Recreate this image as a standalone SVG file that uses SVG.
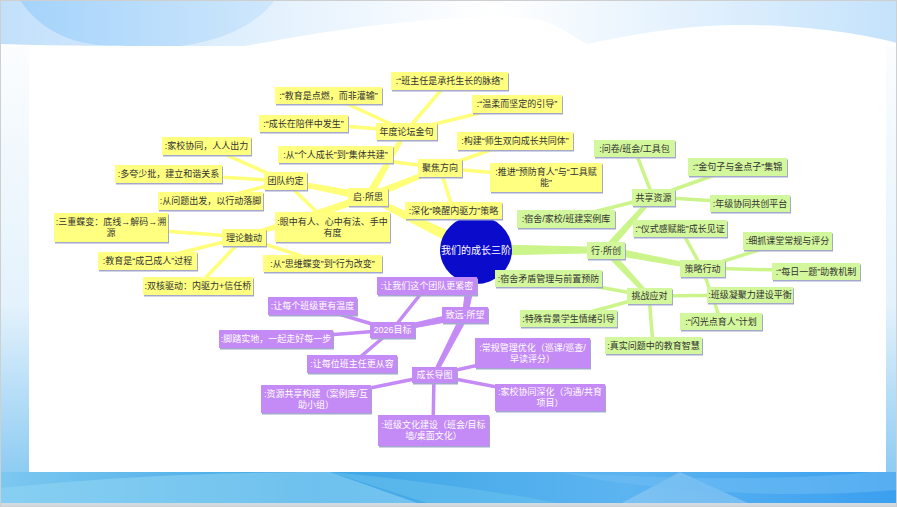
<svg xmlns="http://www.w3.org/2000/svg" width="897" height="507" viewBox="0 0 897 507">
<defs>
<linearGradient id="topg" x1="0" y1="0" x2="1" y2="0">
<stop offset="0" stop-color="#c2e0fb"/><stop offset="0.55" stop-color="#ffffff"/><stop offset="1" stop-color="#c4e2fb"/>
</linearGradient>
<linearGradient id="arcg" x1="0" y1="0" x2="1" y2="0">
<stop offset="0" stop-color="#a4d3fb"/><stop offset="1" stop-color="#cfe7fc"/>
</linearGradient>
<linearGradient id="sideg" x1="0" y1="0" x2="0" y2="1">
<stop offset="0" stop-color="#ffffff"/><stop offset="0.6" stop-color="#e4f2fc"/><stop offset="1" stop-color="#7cc4f0"/>
</linearGradient>
<linearGradient id="botg" x1="0" y1="0" x2="1" y2="0">
<stop offset="0" stop-color="#7cc8f0"/><stop offset="0.35" stop-color="#3ea6e6"/><stop offset="0.7" stop-color="#5cb4f0"/><stop offset="1" stop-color="#3b9ff0"/>
</linearGradient>
<style>
.sh{fill:#a3a9cc}
.y{fill:#ffff80}
.g{fill:#d3f79c}
.p{fill:#c48af6}
.t{font-family:"Liberation Sans","Noto Sans CJK SC",sans-serif;font-size:9px;fill:#333;text-anchor:middle}
.tw{font-family:"Liberation Sans","Noto Sans CJK SC",sans-serif;font-size:9px;fill:#fff;text-anchor:middle}
.cy{stroke:#ffff78;stroke-linecap:round;fill:none}
.cg{stroke:#cbf58a;stroke-linecap:round;fill:none}
.cp{stroke:#c48af6;stroke-linecap:round;fill:none}
.fy{fill:#ffff78;stroke:#ffff78;stroke-width:1;stroke-linejoin:round}
.fg{fill:#cbf58a;stroke:#cbf58a;stroke-width:1;stroke-linejoin:round}
.fp{fill:#c48af6;stroke:#c48af6;stroke-width:1;stroke-linejoin:round}
.w4{stroke-width:3.5}
</style>
</defs>
<g id="background">
<rect x="0" y="0" width="897" height="507" fill="url(#sideg)"/>
<rect x="0" y="0" width="897" height="46" fill="url(#topg)"/>
<path d="M20 0 C40 30 70 44 110 46 L180 46 C230 40 260 20 275 0 Z" fill="url(#arcg)"/>
<path d="M0 46 L0 44 C60 46 120 46 245 46 C330 30 430 14 530 18 C560 22 575 40 588 44 C650 30 700 25 740 25 C800 25 860 33 897 43 L897 46 Z" fill="#ffffff"/>
<rect x="29" y="46" width="857" height="426" fill="#ffffff"/>
<rect x="0" y="472" width="897" height="32" fill="url(#botg)"/>
<path d="M0 488 C100 478 200 472 330 472 L420 504 L0 504 Z" fill="#8fd3f3" opacity="0.6"/>
<path d="M330 472 C420 480 520 495 560 504 L430 504 Z" fill="#6cc3ee" opacity="0.5"/>
<path d="M680 472 L750 504 L620 504 Z" fill="#9bd0f3" opacity="0.5"/>
<path d="M560 472 C680 480 800 480 870 472 L897 472 L897 490 C800 498 700 494 600 480 Z" fill="#72bdf3" opacity="0.5"/>
<rect x="0" y="503" width="897" height="4" fill="#d3dae0"/>
<rect x="0.5" y="0.5" width="896" height="506" fill="none" stroke="#cfcfcf"/>
</g>
<g id="connectors">
<polygon class="fy" points="478.4,245.1 369.1,194.8 366.9,199.2 473.6,254.9"/>
<polygon class="fy" points="368.7,193.6 285.3,179.3 284.7,182.7 367.3,200.4"/>
<polygon class="fy" points="366.9,193.7 243.5,235.3 244.5,238.7 369.1,200.3"/>
<polygon class="fy" points="371,198.8 407.5,131.9 404.5,130.1 365,195.3"/>
<polygon class="fy" points="369.3,200.3 440.7,169.6 439.3,166.4 366.7,193.8"/>
<line class="cy w4" x1="285" y1="181" x2="206" y2="146"/>
<line class="cy w4" x1="285" y1="181" x2="168" y2="174"/>
<line class="cy w4" x1="285" y1="181" x2="210" y2="201"/>
<line class="cy w4" x1="285" y1="181" x2="332" y2="227"/>
<line class="cy w4" x1="244" y1="237" x2="111" y2="227"/>
<line class="cy w4" x1="244" y1="237" x2="147" y2="261"/>
<line class="cy w4" x1="244" y1="237" x2="198" y2="286"/>
<line class="cy w4" x1="244" y1="237" x2="322" y2="263"/>
<line class="cy w4" x1="406" y1="131" x2="449" y2="81"/>
<line class="cy w4" x1="406" y1="131" x2="328" y2="95"/>
<line class="cy w4" x1="406" y1="131" x2="517" y2="104"/>
<line class="cy w4" x1="406" y1="131" x2="303" y2="123"/>
<line class="cy w4" x1="440" y1="168" x2="515" y2="141"/>
<line class="cy w4" x1="440" y1="168" x2="546" y2="177"/>
<line class="cy w4" x1="440" y1="168" x2="453" y2="210"/>
<line class="cy w4" x1="440" y1="168" x2="335" y2="154"/>
<polygon class="fg" points="476,255.5 606,252.5 606,247.5 476,244.5"/>
<polygon class="fg" points="608.6,252.3 654.3,198.2 651.7,195.8 603.4,247.7"/>
<polygon class="fg" points="605.4,253.4 701.7,269.7 702.3,266.3 606.6,246.6"/>
<polygon class="fg" points="603.4,252.4 647.7,297.2 650.3,294.8 608.6,247.6"/>
<line class="cg w4" x1="653" y1="197" x2="634" y2="148"/>
<line class="cg w4" x1="653" y1="197" x2="737" y2="167"/>
<line class="cg w4" x1="653" y1="197" x2="750" y2="203"/>
<line class="cg w4" x1="653" y1="197" x2="566" y2="219"/>
<line class="cg w4" x1="702" y1="268" x2="680" y2="228"/>
<line class="cg w4" x1="702" y1="268" x2="787" y2="241"/>
<line class="cg w4" x1="702" y1="268" x2="816" y2="271"/>
<line class="cg w4" x1="702" y1="268" x2="721" y2="321"/>
<line class="cg w4" x1="649" y1="296" x2="548" y2="278"/>
<line class="cg w4" x1="649" y1="296" x2="568" y2="318"/>
<line class="cg w4" x1="649" y1="296" x2="653" y2="345"/>
<line class="cg w4" x1="649" y1="296" x2="750" y2="295"/>
<polygon class="fp" points="470.6,249.1 462.5,314.6 467.5,315.4 481.4,250.9"/>
<polygon class="fp" points="464.3,311.6 391.6,328.3 392.4,331.7 465.7,318.4"/>
<polygon class="fp" points="461.9,313.4 432.4,374.2 435.6,375.8 468.1,316.6"/>
<line class="cp w4" x1="392" y1="330" x2="427" y2="286"/>
<line class="cp w4" x1="392" y1="330" x2="312" y2="306"/>
<line class="cp w4" x1="392" y1="330" x2="276" y2="339"/>
<line class="cp w4" x1="392" y1="330" x2="352" y2="364"/>
<line class="cp w4" x1="434" y1="375" x2="532" y2="353"/>
<line class="cp w4" x1="434" y1="375" x2="550" y2="397"/>
<line class="cp w4" x1="434" y1="375" x2="316" y2="399"/>
<line class="cp w4" x1="434" y1="375" x2="433" y2="430"/>
</g>
<g id="center"><ellipse cx="476" cy="250" rx="36" ry="34" fill="#0b0bcc"/><text x="476" y="253.5" font-family="Liberation Sans,Noto Sans CJK SC,sans-serif" font-size="10" fill="#fff" text-anchor="middle">我们的成长三阶</text></g>
<g id="n-qisuosi"><rect class="sh" x="349" y="189.5" width="40" height="18"/><rect class="y" x="348" y="188" width="40" height="18"/><text class="t" x="368" y="200.3">启·所思</text></g>
<g id="n-niandu"><rect class="sh" x="377" y="124.5" width="61" height="17"/><rect class="y" x="376" y="123" width="61" height="17"/><text class="t" x="406.5" y="134.8">年度论坛金句</text></g>
<g id="n-jujiao"><rect class="sh" x="419" y="160.5" width="44" height="18"/><rect class="y" x="418" y="159" width="44" height="18"/><text class="t" x="440" y="171.3">聚焦方向</text></g>
<g id="n-tuandui"><rect class="sh" x="265" y="173.5" width="43" height="18"/><rect class="y" x="264" y="172" width="43" height="18"/><text class="t" x="285.5" y="184.3">团队约定</text></g>
<g id="n-lilun"><rect class="sh" x="223" y="230.5" width="44" height="17"/><rect class="y" x="222" y="229" width="44" height="17"/><text class="t" x="244" y="240.8">理论触动</text></g>
<g id="n-y1"><rect class="sh" x="392" y="73.5" width="117" height="18"/><rect class="y" x="391" y="72" width="117" height="18"/><text class="t" x="449.5" y="84.3">:“班主任是承托生长的脉络”</text></g>
<g id="n-y2"><rect class="sh" x="276" y="88.5" width="107" height="17"/><rect class="y" x="275" y="87" width="107" height="17"/><text class="t" x="328.5" y="98.8">:“教育是点燃，而非灌输”</text></g>
<g id="n-y3"><rect class="sh" x="473" y="96.5" width="90" height="18"/><rect class="y" x="472" y="95" width="90" height="18"/><text class="t" x="517" y="107.3">:“温柔而坚定的引导”</text></g>
<g id="n-y4"><rect class="sh" x="260" y="116.5" width="89" height="17"/><rect class="y" x="259" y="115" width="89" height="17"/><text class="t" x="303.5" y="126.8">:“成长在陪伴中发生”</text></g>
<g id="n-y5"><rect class="sh" x="458" y="133.5" width="116" height="18"/><rect class="y" x="457" y="132" width="116" height="18"/><text class="t" x="515" y="144.3">:构建“师生双向成长共同体”</text></g>
<g id="n-y6"><rect class="sh" x="491" y="164.5" width="112" height="29"/><rect class="y" x="490" y="163" width="112" height="29"/><text class="t" x="546" y="175.3">:推进“预防育人”与“工具赋</text><text class="t" x="546" y="186.3">能”</text></g>
<g id="n-y7"><rect class="sh" x="406" y="203.5" width="97" height="17"/><rect class="y" x="405" y="202" width="97" height="17"/><text class="t" x="453.5" y="213.8">:深化“唤醒内驱力”策略</text></g>
<g id="n-y8"><rect class="sh" x="279" y="147.5" width="115" height="17"/><rect class="y" x="278" y="146" width="115" height="17"/><text class="t" x="335.5" y="157.8">:从“个人成长”到“集体共建”</text></g>
<g id="n-y9"><rect class="sh" x="276" y="213.5" width="115" height="30"/><rect class="y" x="275" y="212" width="115" height="30"/><text class="t" x="332.5" y="224.8">:眼中有人、心中有法、手中</text><text class="t" x="332.5" y="235.8">有度</text></g>
<g id="n-y10"><rect class="sh" x="264" y="256.5" width="119" height="17"/><rect class="y" x="263" y="255" width="119" height="17"/><text class="t" x="322.5" y="266.8">:从“思维蝶变”到“行为改变”</text></g>
<g id="n-y11"><rect class="sh" x="163" y="138.5" width="89" height="18"/><rect class="y" x="162" y="137" width="89" height="18"/><text class="t" x="206.5" y="149.3">:家校协同，人人出力</text></g>
<g id="n-y12"><rect class="sh" x="116" y="166.5" width="107" height="18"/><rect class="y" x="115" y="165" width="107" height="18"/><text class="t" x="168.5" y="177.3">:多夸少批，建立和谐关系</text></g>
<g id="n-y13"><rect class="sh" x="159" y="193.5" width="105" height="18"/><rect class="y" x="158" y="192" width="105" height="18"/><text class="t" x="210.5" y="204.3">:从问题出发，以行动落脚</text></g>
<g id="n-y14"><rect class="sh" x="55" y="214.5" width="114" height="29"/><rect class="y" x="54" y="213" width="114" height="29"/><text class="t" x="111" y="225.3">:三重蝶变：底线→解码→溯</text><text class="t" x="111" y="236.3">源</text></g>
<g id="n-y15"><rect class="sh" x="99" y="253.5" width="99" height="18"/><rect class="y" x="98" y="252" width="99" height="18"/><text class="t" x="147.5" y="264.3">:教育是“成己成人”过程</text></g>
<g id="n-y16"><rect class="sh" x="144" y="278.5" width="110" height="18"/><rect class="y" x="143" y="277" width="110" height="18"/><text class="t" x="198" y="289.3">:双核驱动：内驱力+信任桥</text></g>
<g id="n-xingsuochuang"><rect class="sh" x="588" y="243.5" width="38" height="17"/><rect class="g" x="587" y="242" width="38" height="17"/><text class="t" x="606" y="253.8">行·所创</text></g>
<g id="n-gongxiang"><rect class="sh" x="633" y="190.5" width="43" height="17"/><rect class="g" x="632" y="189" width="43" height="17"/><text class="t" x="653.5" y="200.8">共享资源</text></g>
<g id="n-celue"><rect class="sh" x="681" y="261.5" width="45" height="17"/><rect class="g" x="680" y="260" width="45" height="17"/><text class="t" x="702.5" y="271.8">策略行动</text></g>
<g id="n-tiaozhan"><rect class="sh" x="628" y="289.5" width="45" height="16"/><rect class="g" x="627" y="288" width="45" height="16"/><text class="t" x="649.5" y="299.3">挑战应对</text></g>
<g id="n-g1"><rect class="sh" x="595" y="141.5" width="81" height="17"/><rect class="g" x="594" y="140" width="81" height="17"/><text class="t" x="634.5" y="151.8">:问卷/班会/工具包</text></g>
<g id="n-g2"><rect class="sh" x="689" y="159.5" width="99" height="18"/><rect class="g" x="688" y="158" width="99" height="18"/><text class="t" x="737.5" y="170.3">:“金句子与金点子”集锦</text></g>
<g id="n-g3"><rect class="sh" x="711" y="196.5" width="80" height="17"/><rect class="g" x="710" y="195" width="80" height="17"/><text class="t" x="750" y="206.8">:年级协同共创平台</text></g>
<g id="n-g4"><rect class="sh" x="518" y="211.5" width="98" height="18"/><rect class="g" x="517" y="210" width="98" height="18"/><text class="t" x="566" y="222.3">:宿舍/家校/班建案例库</text></g>
<g id="n-g5"><rect class="sh" x="634" y="221.5" width="94" height="17"/><rect class="g" x="633" y="220" width="94" height="17"/><text class="t" x="680" y="231.8">:“仪式感赋能”成长见证</text></g>
<g id="n-g6"><rect class="sh" x="744" y="233.5" width="89" height="18"/><rect class="g" x="743" y="232" width="89" height="18"/><text class="t" x="787.5" y="244.3">:细抓课堂常规与评分</text></g>
<g id="n-g7"><rect class="sh" x="773" y="264.5" width="88" height="17"/><rect class="g" x="772" y="263" width="88" height="17"/><text class="t" x="816" y="274.8">:“每日一题”助教机制</text></g>
<g id="n-g8"><rect class="sh" x="708" y="288.5" width="86" height="16"/><rect class="g" x="707" y="287" width="86" height="16"/><text class="t" x="750" y="298.3">:班级凝聚力建设平衡</text></g>
<g id="n-g9"><rect class="sh" x="496" y="271.5" width="107" height="17"/><rect class="g" x="495" y="270" width="107" height="17"/><text class="t" x="548.5" y="281.8">:宿舍矛盾管理与前置预防</text></g>
<g id="n-g10"><rect class="sh" x="521" y="311.5" width="97" height="17"/><rect class="g" x="520" y="310" width="97" height="17"/><text class="t" x="568.5" y="321.8">:特殊背景学生情绪引导</text></g>
<g id="n-g11"><rect class="sh" x="681" y="314.5" width="82" height="17"/><rect class="g" x="680" y="313" width="82" height="17"/><text class="t" x="721" y="324.8">:“闪光点育人”计划</text></g>
<g id="n-g12"><rect class="sh" x="606" y="338.5" width="97" height="17"/><rect class="g" x="605" y="337" width="97" height="17"/><text class="t" x="653.5" y="348.8">:真实问题中的教育智慧</text></g>
<g id="n-zhiyuan"><rect class="sh" x="443" y="308.5" width="46" height="16"/><rect class="p" x="442" y="307" width="46" height="16"/><text class="tw" x="465" y="318.3">致远·所望</text></g>
<g id="n-mubiao"><rect class="sh" x="371" y="323.5" width="45" height="16"/><rect class="p" x="370" y="322" width="45" height="16"/><text class="tw" x="392.5" y="333.3">2026目标</text></g>
<g id="n-daotu"><rect class="sh" x="413" y="368.5" width="45" height="16"/><rect class="p" x="412" y="367" width="45" height="16"/><text class="tw" x="434.5" y="378.3">成长导图</text></g>
<g id="n-p1"><rect class="sh" x="378" y="278.5" width="100" height="18"/><rect class="p" x="377" y="277" width="100" height="18"/><text class="tw" x="427" y="289.3">:让我们这个团队更紧密</text></g>
<g id="n-p2"><rect class="sh" x="269" y="298.5" width="89" height="18"/><rect class="p" x="268" y="297" width="89" height="18"/><text class="tw" x="312.5" y="309.3">:让每个班级更有温度</text></g>
<g id="n-p3"><rect class="sh" x="220" y="331.5" width="114" height="18"/><rect class="p" x="219" y="330" width="114" height="18"/><text class="tw" x="276" y="342.3">:脚踏实地，一起走好每一步</text></g>
<g id="n-p4"><rect class="sh" x="308" y="356.5" width="90" height="18"/><rect class="p" x="307" y="355" width="90" height="18"/><text class="tw" x="352" y="367.3">:让每位班主任更从容</text></g>
<g id="n-p5"><rect class="sh" x="476" y="339.5" width="115" height="30"/><rect class="p" x="475" y="338" width="115" height="30"/><text class="tw" x="532.5" y="350.8">:常规管理优化（巡课/巡查/</text><text class="tw" x="532.5" y="361.8">早读评分）</text></g>
<g id="n-p6"><rect class="sh" x="496" y="385.5" width="110" height="27"/><rect class="p" x="495" y="384" width="110" height="27"/><text class="tw" x="550" y="395.3">:家校协同深化（沟通/共育</text><text class="tw" x="550" y="406.3">项目）</text></g>
<g id="n-p7"><rect class="sh" x="262" y="386.5" width="110" height="28"/><rect class="p" x="261" y="385" width="110" height="28"/><text class="tw" x="316" y="396.8">:资源共享构建（案例库/互</text><text class="tw" x="316" y="407.8">助小组）</text></g>
<g id="n-p8"><rect class="sh" x="379" y="416.5" width="111" height="31"/><rect class="p" x="378" y="415" width="111" height="31"/><text class="tw" x="433.5" y="428.3">:班级文化建设（班会/目标</text><text class="tw" x="433.5" y="439.3">墙/桌面文化）</text></g>
</svg>
